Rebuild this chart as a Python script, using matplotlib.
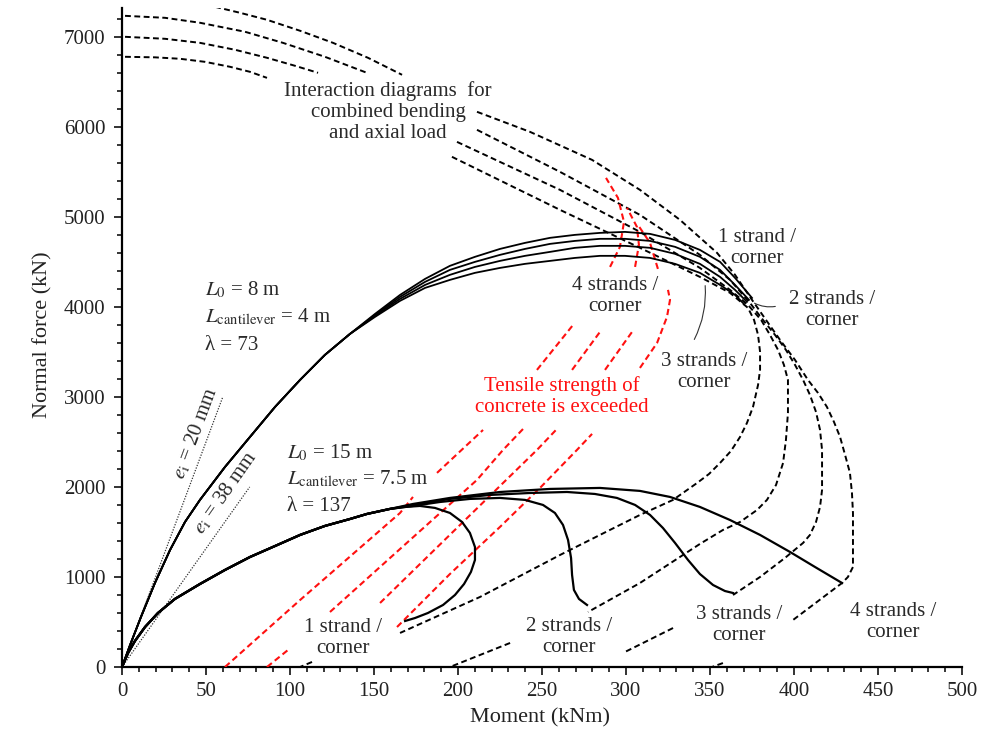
import numpy as np
import matplotlib
matplotlib.use('Agg')
import matplotlib.pyplot as plt
from matplotlib.ticker import MultipleLocator

plt.rcParams['font.family'] = 'Liberation Serif'
plt.rcParams['mathtext.fontset'] = 'stix'

nan = np.nan

# first order eccentricity lines, M (kNm) and N (kN)
ei20_m = [0, 60]
ei20_n = [0, 3000]
ei38_m = [0, 76]
ei38_n = [0, 2000]

# L0 = 8 m (lambda = 73): common rising part, then one branch per strand count
l73_rise_m = [0, 4.8, 11.3, 19.6, 28.6, 37.5, 46.4, 61.3, 76.2, 91.1, 106.0, 120.8, 135.7]
l73_rise_n = [0, 244, 556, 933, 1300, 1611, 1856, 2222, 2556, 2889, 3189, 3467, 3700]
l73_m = [150.6, 165.5, 180.4, 195.2, 210.1, 225.0, 239.9, 254.8, 269.6, 284.5, 299.4, 314.3, 329.2, 344.0, 356.0, 364.9]
l73_1_n = [3889, 4067, 4211, 4300, 4378, 4433, 4478, 4511, 4544, 4567, 4567, 4544, 4478, 4378, 4244, 4133]
l73_2_n = [3900, 4089, 4244, 4356, 4444, 4511, 4567, 4611, 4656, 4678, 4678, 4656, 4589, 4478, 4333, 4189]
l73_3_n = [3911, 4111, 4278, 4411, 4500, 4578, 4644, 4700, 4733, 4756, 4756, 4733, 4667, 4556, 4411, 4244]
l73_4_n = [3922, 4133, 4311, 4456, 4556, 4644, 4711, 4767, 4800, 4822, 4833, 4811, 4744, 4633, 4500, 4322]
l73_end_m = [370.2, 372.0, 373.2, 375.0]
l73_end_n = [4033, 4056, 4078, 4100]

# L0 = 15 m (lambda = 137)
l137_rise_m = [0, 3.6, 7.7, 13.7, 21.4, 31.5, 46.4, 61.3, 76.2, 91.1, 106.0, 120.8, 135.7, 145.8, 159.5]
l137_rise_n = [0, 156, 289, 444, 600, 756, 922, 1078, 1222, 1344, 1467, 1567, 1644, 1700, 1756]
l137_1_m = [168.5, 177.4, 186.3, 195.2, 202.4, 207.1, 210.1, 210.1, 207.7, 203.6, 198.2, 191.1, 182.1, 174.4, 168.5]
l137_1_n = [1778, 1789, 1767, 1711, 1611, 1489, 1333, 1189, 1056, 922, 800, 689, 600, 544, 511]
l137_2_m = [173.2, 189.3, 207.1, 225.0, 239.9, 250.6, 257.7, 262.5, 265.5, 267.3, 267.9, 269.0, 272.0, 276.8]
l137_2_n = [1789, 1833, 1867, 1878, 1856, 1800, 1711, 1578, 1411, 1211, 1022, 856, 756, 689]
l137_3_m = [173.2, 195.2, 219.0, 242.9, 264.9, 281.5, 294.6, 305.4, 314.3, 322.0, 329.2, 336.9, 344.0, 351.8, 358.9, 363.7]
l137_3_n = [1800, 1867, 1911, 1933, 1944, 1922, 1878, 1800, 1689, 1544, 1378, 1189, 1033, 911, 844, 822]
l137_4_m = [173.2, 195.2, 225.0, 254.8, 284.5, 308.3, 326.2, 344.0, 361.9, 379.8, 397.6, 412.5, 428.6]
l137_4_n = [1811, 1878, 1944, 1978, 1989, 1956, 1889, 1778, 1633, 1467, 1278, 1111, 933]

# interaction diagrams (nan = hidden behind a label)
id1_m = [1.8, 19.6, 34.5, 49.4, 64.3, 76.2, 86.3, nan,
         196.4, 260.7, 308.3, 344.0, 361.9, 372.6, 376.2, 378.6, 379.8, 379.8, 378.6, 375.6, 372.0,
         367.9, 362.5, 356.0, 349.4, 342.3, 328.0, 308.3, 284.5, 260.7, 236.9, 213.1, 189.3, 165.5,
         nan, 113.1, 106.0]
id1_n = [6778, 6772, 6756, 6722, 6667, 6611, 6544, nan,
         5667, 5078, 4656, 4333, 4156, 3989, 3856, 3689, 3500, 3300, 3133, 2889, 2711,
         2556, 2400, 2267, 2144, 2044, 1856, 1689, 1467, 1244, 1011, 778, 578, 378,
         nan, 56, 0]
id2_m = [1.8, 25.6, 46.4, 67.3, 86.3, 103.0, 116.7, nan,
         199.4, 260.7, 308.3, 344.0, 361.9, 372.6, 380.4, 385.7, 390.5, 394.0, 396.4, 396.4, 395.2,
         393.5, 389.3, 383.9, 378.0, 367.9, 357.7, 344.0, 332.1, 308.3, 277.4,
         nan, 231.0, 195.2]
id2_n = [7000, 6978, 6933, 6856, 6767, 6678, 6600, nan,
         5833, 5300, 4833, 4433, 4189, 4022, 3856, 3689, 3522, 3356, 3189, 2822, 2522,
         2267, 2022, 1856, 1744, 1611, 1522, 1367, 1222, 933, 611,
         nan, 267, 0]
id3_m = [1.8, 25.6, 46.4, 73.2, 95.8, 120.8, 145.8, nan,
         211.3, 260.7, 308.3, 344.0, 361.9, 373.8, 381.5, 388.7, 395.2, 400.6, 405.4, 409.5, 413.1,
         415.5, 416.7, 416.7, 415.5, 413.1, 409.5, 405.4, 394.6, 379.8, 363.7,
         nan, 328.0, 298.2]
id3_n = [7233, 7211, 7156, 7056, 6933, 6778, 6600, nan,
         5967, 5500, 5022, 4578, 4300, 4044, 3856, 3689, 3522, 3356, 3189, 3022, 2833,
         2633, 2411, 1967, 1778, 1611, 1467, 1378, 1211, 1000, 800,
         nan, 433, 156]
id4_m = [55.4, 70.2, 86.3, 106.0, 125.6, 146.4, 166.7, nan,
         211.3, 242.9, 279.8, 308.3, 332.1, 354.2, 364.9, 375.0, 383.3, 391.7, 400.6, 408.3, 414.3,
         419.6, 423.8, 427.4, 430.4, 433.3, 434.5, 435.1, 435.1, 435.1, 432.1, 428.6, 399.4,
         nan, 357.7, 351.2]
id4_n = [7333, 7267, 7189, 7067, 6933, 6767, 6578, nan,
         6167, 5944, 5633, 5300, 4967, 4600, 4356, 4078, 3856, 3633, 3411, 3189, 3044,
         2889, 2722, 2556, 2356, 2156, 1933, 1711, 1411, 1111, 1000, 933, 522,
         nan, 44, 0]

# tensile strength of concrete exceeded (red)
red1_m = [61.3, 106.0, 165.5, 173.2, nan, 187.5, 214.9, nan, 247.0, 268.5, nan,
          290.5, 296.4, 298.8, 295.2, 288.1]
red1_n = [0, 744, 1711, 1889, nan, 2156, 2633, nan, 3300, 3800, nan,
          4444, 4667, 4944, 5211, 5433]
red2_m = [86.3, 98.8, nan, 123.8, 165.5, 211.3, 226.8, 239.9, nan, 267.9, 284.5, nan,
          305.4, 307.7, 306.5, 300.6]
red2_n = [0, 189, nan, 611, 1311, 2078, 2411, 2667, nan, 3300, 3722, nan,
          4444, 4689, 4889, 5100]
red3_m = [153.6, 201.2, 247.0, 259.5, nan, 287.5, 303.6, nan, 319.0, 314.3, 307.1]
red3_n = [711, 1578, 2411, 2656, nan, 3300, 3722, nan, 4422, 4711, 4911]
red4_m = [163.7, 195.2, 225.0, 248.8, 270.8, 279.8, nan, 308.3, 318.5, 324.4, 326.2, 325.0]
red4_n = [444, 1033, 1556, 1989, 2411, 2589, nan, 3322, 3600, 3889, 4078, 4189]

fig = plt.figure(figsize=(9.83, 7.38), dpi=100)
ax = fig.add_axes([122 / 983, 71 / 738, 840 / 983, 659 / 738])
ax.set_xlim(0, 500)
ax.set_ylim(0, 7320)

dash = (3, 1.8)
for m, n in [(id1_m, id1_n), (id2_m, id2_n), (id3_m, id3_n), (id4_m, id4_n)]:
    ax.plot(m, n, color='black', lw=1.4, dashes=dash, zorder=2)

for m, n in [(red1_m, red1_n), (red2_m, red2_n), (red3_m, red3_n), (red4_m, red4_n)]:
    ax.plot(m, n, color='#ff1010', lw=1.5, dashes=dash, zorder=3)

for i, n in enumerate([l73_1_n, l73_2_n, l73_3_n, l73_4_n]):
    ax.plot(l73_rise_m + l73_m + [l73_end_m[i]], l73_rise_n + n + [l73_end_n[i]],
            color='black', lw=1.3, zorder=4)

for m, n in [(l137_1_m, l137_1_n), (l137_2_m, l137_2_n), (l137_3_m, l137_3_n), (l137_4_m, l137_4_n)]:
    ax.plot(l137_rise_m + m, l137_rise_n + n, color='black', lw=1.6, zorder=4)

ax.plot(ei20_m, ei20_n, color='#333333', lw=0.9, dashes=(1, 1.2), zorder=3)
ax.plot(ei38_m, ei38_n, color='#333333', lw=0.9, dashes=(1, 1.2), zorder=3)

# axes look
for side in ['top', 'right']:
    ax.spines[side].set_visible(False)
for side in ['left', 'bottom']:
    ax.spines[side].set_linewidth(1.6)
ax.xaxis.set_major_locator(MultipleLocator(50))
ax.xaxis.set_minor_locator(MultipleLocator(10))
ax.yaxis.set_major_locator(MultipleLocator(1000))
ax.yaxis.set_minor_locator(MultipleLocator(200))
ax.tick_params(which='major', direction='out', length=6, width=1.3, labelsize=15, colors='#222222')
ax.tick_params(which='minor', direction='out', length=3.5, width=1.1)
ax.tick_params(axis='x', which='major', pad=5)
ax.tick_params(axis='y', which='major', pad=6)

fig.text(540 / 983, 1 - 718 / 738, 'Moment (kNm)', ha='center', va='center', fontsize=16, color='#222222')
fig.text(43 / 983, 1 - 335 / 738, 'Normal force (kN)', ha='center', va='center', rotation=90,
         fontsize=16, color='#222222')

tc = '#2a2a2a'
fs = 15
ax.text(158.3, 6167, 'Interaction diagrams  for\ncombined bending\nand axial load', ha='center', va='center',
        fontsize=fs, color=tc, linespacing=1.15)

ax.text(49.4, 4133, '$L_0$ = 8 m', fontsize=fs, color=tc, va='baseline')
ax.text(49.4, 3833, '$L_{\\mathrm{cantilever}}$ = 4 m', fontsize=fs, color=tc, va='baseline')
ax.text(49.4, 3522, 'λ = 73', fontsize=fs, color=tc, va='baseline')

ax.text(98.2, 2322, '$L_0$ = 15 m', fontsize=fs, color=tc, va='baseline')
ax.text(98.2, 2033, '$L_{\\mathrm{cantilever}}$ = 7.5 m', fontsize=fs, color=tc, va='baseline')
ax.text(98.2, 1733, 'λ = 137', fontsize=fs, color=tc, va='baseline')

ax.text(43.5, 2600, '$e_{\\mathrm{i}}$ = 20 mm', fontsize=fs, color=tc, rotation=69.5,
        rotation_mode='anchor', ha='center', va='center')
ax.text(61.3, 1933, '$e_{\\mathrm{i}}$ = 38 mm', fontsize=fs, color=tc, rotation=55,
        rotation_mode='anchor', ha='center', va='center')

ax.text(261.9, 3000, 'Tensile strength of\nconcrete is exceeded', ha='center', va='center',
        fontsize=fs, color='#ff1010', linespacing=1.15)

labels = [(378.0, 4656, '1 strand /\ncorner'), (422.6, 3967, '2 strands /\ncorner'),
          (346.4, 3278, '3 strands /\ncorner'), (293.5, 4122, '4 strands /\ncorner'),
          (131.5, 322, '1 strand /\ncorner'), (266.0, 333, '2 strands /\ncorner'),
          (367.3, 467, '3 strands /\ncorner'), (459.0, 500, '4 strands /\ncorner')]
for x, y, s in labels:
    ax.text(x, y, s, ha='center', va='center', fontsize=fs, color=tc, linespacing=1.1)

ax.annotate('', xy=(375, 4056), xytext=(390.5, 4011),
            arrowprops=dict(arrowstyle='-', lw=0.8, color='#333333', connectionstyle='arc3,rad=-0.2'))
ax.annotate('', xy=(347, 4267), xytext=(339.9, 3611),
            arrowprops=dict(arrowstyle='-', lw=0.8, color='#333333', connectionstyle='arc3,rad=0.15'))

fig.savefig('out.png', dpi=100)
